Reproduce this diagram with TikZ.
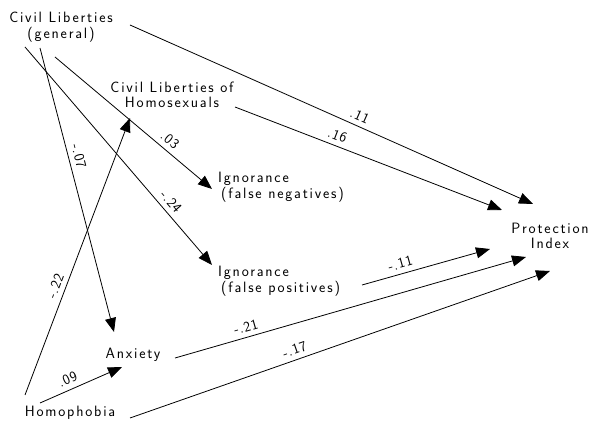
\documentclass[tikz,border=0pt]{standalone}
\usepackage{fontspec}
\setsansfont{Latin Modern Sans}[LetterSpace=12]
\newfontfamily\coeffont{Latin Modern Sans}[LetterSpace=6]
\usetikzlibrary{arrows.meta}
\begin{document}
\begin{tikzpicture}[x=1pt,y=1pt,
  every node/.style={font=\sffamily\fontsize{15}{15.5}\selectfont, inner sep=0pt},
  var/.style={align=center},
  varl/.style={align=left, anchor=west},
  path/.style={line width=0.8pt, -{Triangle[length=14pt,width=11pt]}},
  coef/.style={sloped, above, inner sep=5pt, font=\coeffont\fontsize{14.5}{15}\selectfont}]
\useasboundingbox (0,0) rectangle (593,422);

% variables
\node[var]  (clg)  at (61,395)  {Civil Liberties\\(general)};
\node[var]  (clh)  at (172,327) {Civil Liberties of\\Homosexuals};
\node[varl] (ignN) at (218,235) {Ignorance\\\hspace{3pt}(false negatives)};
\node[varl] (ignP) at (218,141) {Ignorance\\\hspace{3pt}(false positives)};
\node[var]  (prot) at (550,186) {Protection\\Index};
\node[var]  (anx)  at (133,67)  {Anxiety};
\node[var]  (hom)  at (70,9)    {Homophobia};

% paths with coefficients
\draw[path] ([shift={(69,2)}]clg.center) -- node[coef, pos=0.56] {.11} ([shift={(-17,32)}]prot.center);
\draw[path] ([shift={(63,-12)}]clh.center) -- node[coef, pos=0.37] {.16} ([shift={(-48,26)}]prot.center);
\draw[path] ([shift={(-6,-30)}]clg.center) -- node[coef, pos=0.69] {.03} ([shift={(-6,-2)}]ignN.west);
\draw[path] ([shift={(-36,-20)}]clg.center) -- node[coef, pos=0.74] {-.24} ([shift={(-6,16)}]ignP.west);
\draw[path] ([shift={(-21,-21)}]clg.center) -- node[coef, pos=0.39] {-.07} ([shift={(-19,23)}]anx.center);
\draw[path] ([shift={(-45,18)}]hom.center) -- node[coef, pos=0.38] {-.22} ([shift={(-42,-23)}]clh.center);
\draw[path] ([shift={(-30,10)}]hom.center) -- node[coef, pos=0.39] {.09} ([shift={(-11,-12)}]anx.center);
\draw[path] ([shift={(42,-3)}]anx.center) -- node[coef, pos=0.21] {-.21} ([shift={(-24,-21)}]prot.center);
\draw[path] ([shift={(60,-5)}]hom.center) -- node[coef, pos=0.40] {-.17} ([shift={(0,-35)}]prot.center);
\draw[path] ([shift={(144,-4)}]ignP.west) -- node[coef, pos=0.32] {-.11} ([shift={(-60,-13)}]prot.center);
\end{tikzpicture}
\end{document}
